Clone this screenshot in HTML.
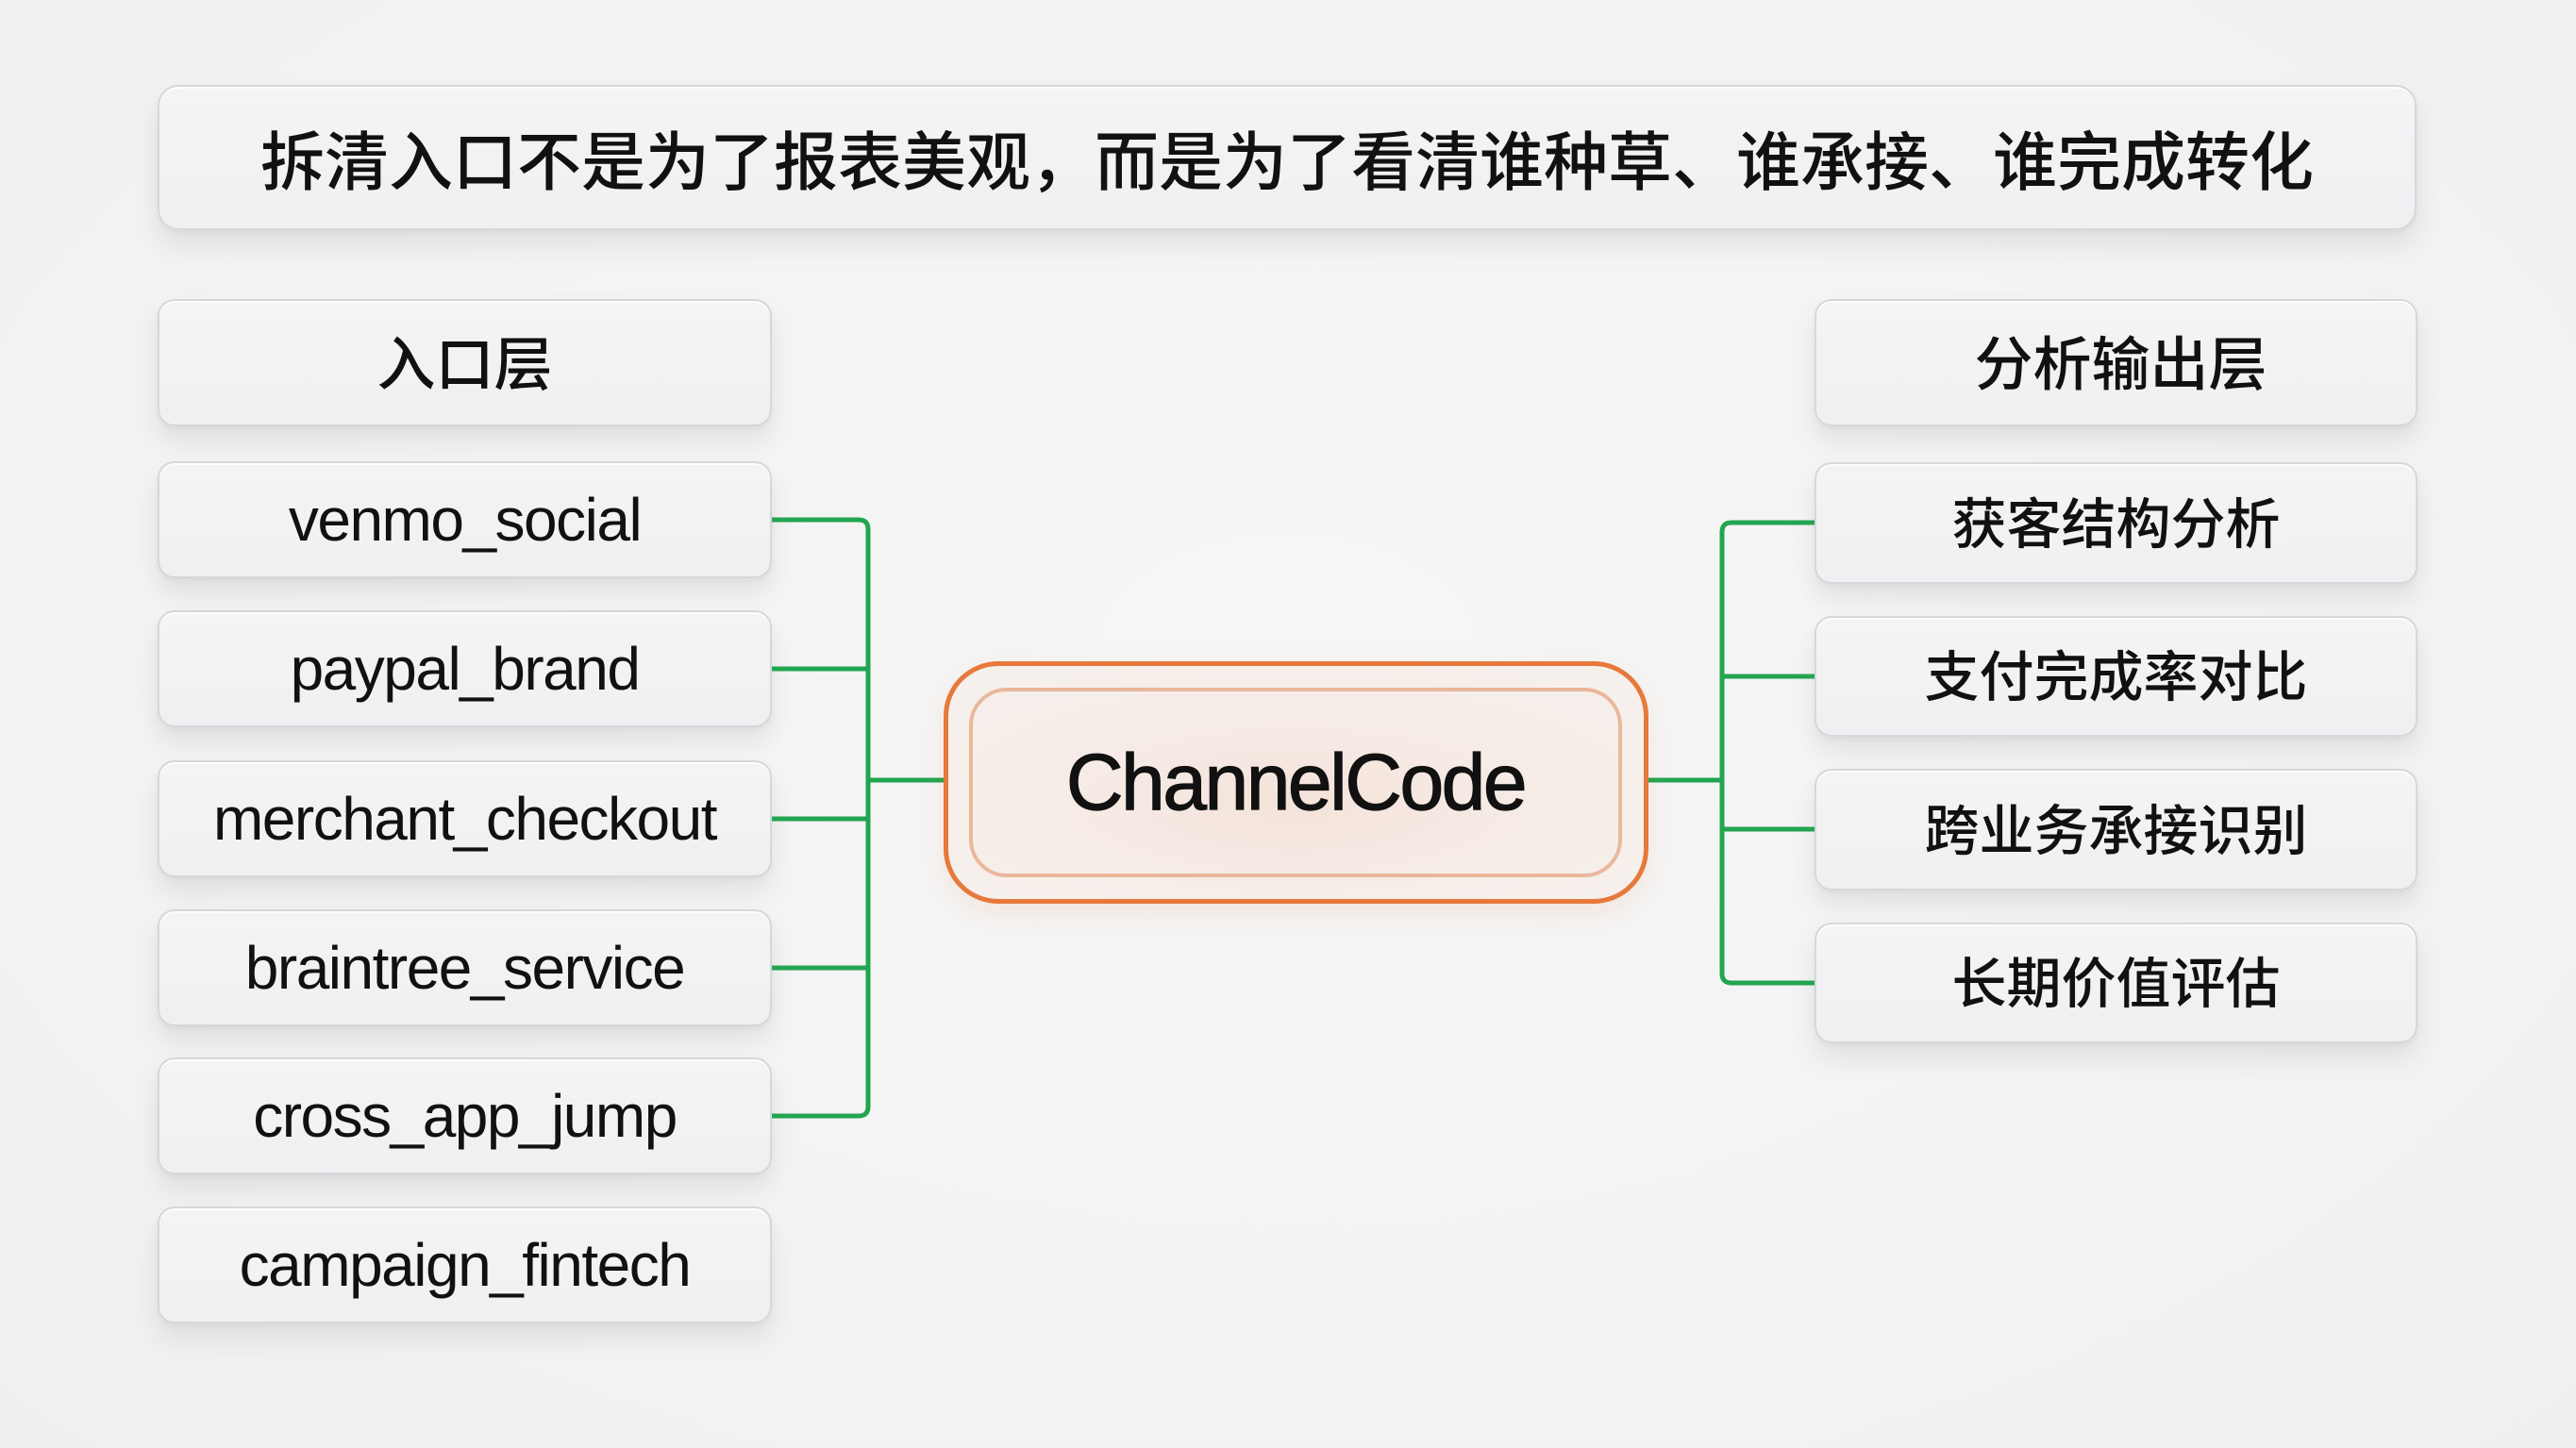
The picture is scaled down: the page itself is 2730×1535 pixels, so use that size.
<!DOCTYPE html>
<html>
<head>
<meta charset="utf-8">
<style>
  html,body{margin:0;padding:0;}
  body{width:2730px;height:1535px;position:relative;overflow:hidden;
    background:radial-gradient(ellipse at 50% 45%, #f6f6f6 0%, #f3f3f3 60%, #efefef 100%);
    font-family:"Liberation Sans","Noto Sans CJK SC",sans-serif;color:#111;}
  .box{position:absolute;box-sizing:border-box;border:2px solid #d5d7db;border-radius:18px;
    background:linear-gradient(180deg,#f4f4f5 0%,#eff0f1 100%);
    box-shadow:0 16px 28px rgba(0,0,0,0.08),0 3px 6px rgba(0,0,0,0.04),inset 0 2px 0 rgba(255,255,255,0.8);
    display:flex;align-items:center;justify-content:center;white-space:nowrap;}
  .lat{font-family:"Liberation Sans",sans-serif;font-size:64px;letter-spacing:-1.5px;}
  .cjk{font-family:"Liberation Sans","Noto Sans CJK SC",sans-serif;font-size:58px;font-weight:500;}
  .hdr{font-family:"Liberation Sans","Noto Sans CJK SC",sans-serif;font-size:62px;font-weight:500;}
  .cjk span,.hdr span{position:relative;top:-4px;}
  svg{position:absolute;left:0;top:0;}
</style>
</head>
<body>
<div class="box" style="left:167px;top:90px;width:2394px;height:154px;border-radius:22px;">
  <span style="font-size:68px;font-weight:500;font-family:'Liberation Sans','Noto Sans CJK SC',sans-serif;position:relative;top:-1px;">拆清入口不是为了报表美观，而是为了看清谁种草、谁承接、谁完成转化</span>
</div>

<div class="box hdr" style="left:167px;top:317px;width:651px;height:135px;"><span>入口层</span></div>
<div class="box hdr" style="left:1923px;top:317px;width:639px;height:135px;"><span style="left:5px;">分析输出层</span></div>

<div class="box lat" style="left:167px;top:489px;width:651px;height:124px;">venmo_social</div>
<div class="box lat" style="left:167px;top:647px;width:651px;height:124px;">paypal_brand</div>
<div class="box lat" style="left:167px;top:806px;width:651px;height:124px;">merchant_checkout</div>
<div class="box lat" style="left:167px;top:964px;width:651px;height:124px;">braintree_service</div>
<div class="box lat" style="left:167px;top:1121px;width:651px;height:124px;">cross_app_jump</div>
<div class="box lat" style="left:167px;top:1279px;width:651px;height:124px;">campaign_fintech</div>

<div class="box cjk" style="left:1923px;top:490px;width:639px;height:129px;"><span>获客结构分析</span></div>
<div class="box cjk" style="left:1923px;top:653px;width:639px;height:128px;"><span>支付完成率对比</span></div>
<div class="box cjk" style="left:1923px;top:815px;width:639px;height:129px;"><span>跨业务承接识别</span></div>
<div class="box cjk" style="left:1923px;top:978px;width:639px;height:128px;"><span>长期价值评估</span></div>

<svg width="2730" height="1535" viewBox="0 0 2730 1535">
  <g fill="none" stroke="#22a550" stroke-width="5" stroke-linecap="butt">
    <path d="M818,551 H910 Q920,551 920,561 V1173 Q920,1183 910,1183 H818"/>
    <path d="M818,709 H920"/>
    <path d="M818,868 H920"/>
    <path d="M818,1026 H920"/>
    <path d="M920,827 H1001"/>
    <path d="M1923,554 H1835 Q1825,554 1825,564 V1032 Q1825,1042 1835,1042 H1923"/>
    <path d="M1825,717 H1923"/>
    <path d="M1825,879 H1923"/>
    <path d="M1745,827 H1825"/>
  </g>
</svg>

<div style="position:absolute;left:1000px;top:701px;width:747px;height:257px;box-sizing:border-box;border:5px solid #e6793b;border-radius:58px;background:radial-gradient(ellipse at 50% 55%, #f5e6de 0%, #f6eee9 60%, #f6f1ee 100%);box-shadow:0 10px 30px rgba(230,121,59,0.12);"></div>
<div style="position:absolute;left:1027px;top:729px;width:692px;height:201px;box-sizing:border-box;border:4px solid #eab79b;border-radius:40px;background:radial-gradient(ellipse at 50% 60%, #f4e3da 0%, #f6ece7 55%, #f6efeb 100%);display:flex;align-items:center;justify-content:center;">
  <span style="font-family:'Liberation Sans',sans-serif;font-size:84px;letter-spacing:-2.5px;-webkit-text-stroke:1.2px #111;color:#111;">ChannelCode</span>
</div>
</body>
</html>
